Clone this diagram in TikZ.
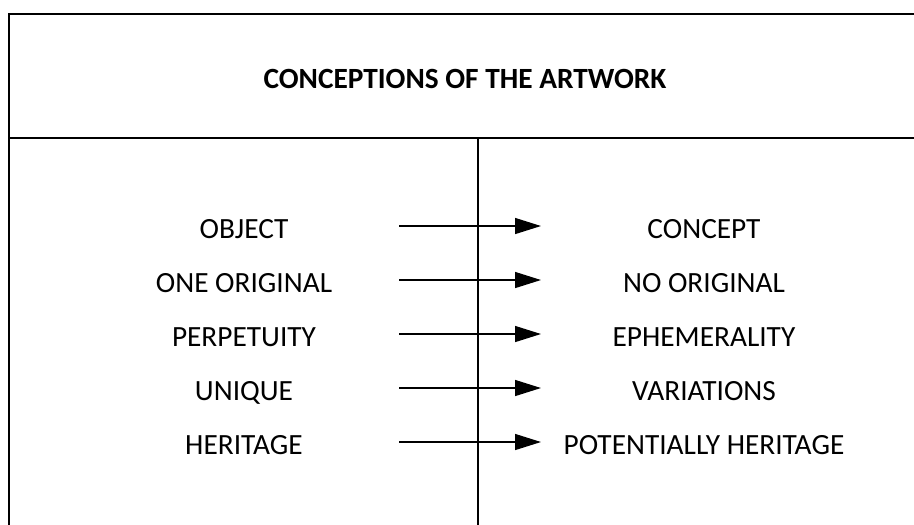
\documentclass[tikz,border=0pt]{standalone}
\usepackage{fontspec}
\setmainfont{Carlito}
\usetikzlibrary{arrows.meta, positioning}

\begin{document}
\begin{tikzpicture}[x=0.375pt, y=-0.375pt]
    \tikzset{>={Triangle[length=9.75pt,width=6pt]}}
    \tikzset{frame/.style={line width=0.75pt},
             term/.style={font=\fontsize{11}{13}\selectfont, anchor=base, inner sep=0pt}}
    \def\xl{244}
    \def\xr{704}
    \useasboundingbox (0,0) rectangle (914,524);

    % frame and columns
    \coordinate (TL) at (9,14);
    \coordinate (TR) at (930,14);
    \coordinate (BL) at (9,530);
    \coordinate (ML) at (9,138);
    \coordinate (MR) at (930,138);
    \coordinate (MC) at (478,138);
    \coordinate (BC) at (478,530);
    \draw[frame] (TR) -- (TL) -- (BL);
    \draw[frame] (ML) -- (MR);
    \draw[line width=0.7pt] (MC) -- (BC);

    \node[term, font=\fontsize{11}{13}\selectfont\bfseries] (title) at (465,88) {CONCEPTIONS OF THE ARTWORK};

    \foreach \l/\r [count=\i] in {OBJECT/CONCEPT, ONE ORIGINAL/NO ORIGINAL,
        PERPETUITY/EPHEMERALITY, UNIQUE/VARIATIONS, HERITAGE/POTENTIALLY HERITAGE} {
      \node[term] (old\i) at (\xl,184+54*\i) {\l};
      \node[term] (new\i) at (\xr,184+54*\i) {\r};
      \coordinate (from\i) at (399,172+54*\i);
      \coordinate (to\i) at (541,172+54*\i);
      \draw[->, line width=0.5pt] (from\i) -- (to\i);
    }
  \end{tikzpicture}
\end{document}
